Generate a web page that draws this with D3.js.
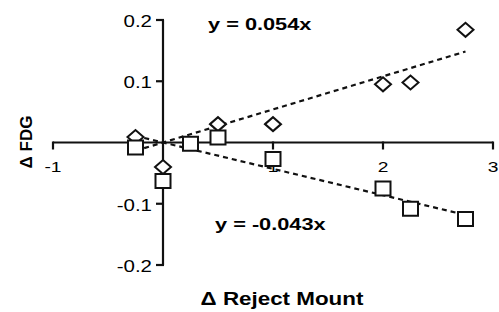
<!DOCTYPE html>
<html>
<head>
<meta charset="utf-8">
<script src="https://cdn.jsdelivr.net/npm/d3@7"></script>
<style>
  html, body { margin: 0; padding: 0; background: #fff; }
  svg { display: block; font-family: "Liberation Sans", Arial, sans-serif; }
</style>
</head>
<body>
<svg id="chart" width="499" height="312"></svg>
<script>
// values
var diamondX = [-0.25, 0, 0.5, 1, 2, 2.25, 2.75];
var diamondY = [0.009, -0.04, 0.03, 0.03, 0.095, 0.098, 0.184];
var squareX = [-0.25, 0, 0.25, 0.5, 1, 2, 2.25, 2.75];
var squareY = [-0.008, -0.063, -0.002, 0.008, -0.027, -0.075, -0.108, -0.125];
var slopeUp = 0.054;
var slopeDown = -0.043;
var fitRange = [-0.25, 2.75];
var xTicks = [-1, 1, 2, 3];
var yTicks = [-0.2, -0.1, 0.1, 0.2];
var upLabel = 'y = 0.054x';
var downLabel = 'y = -0.043x';
var xTitle = '\u0394 Reject Mount';
var yTitle = '\u0394 FDG';

var svg = d3.select('#chart');
var x = d3.scaleLinear().domain([-1, 3]).range([53, 493]);
var y = d3.scaleLinear().domain([-0.2, 0.2]).range([265, 20]);
var stretch = 1.28; // the picture is wider than tall, text too

function label(px, py, txt, anchor, size, weight) {
    svg.append('text')
        .attr('transform', 'translate(' + px + ',' + py + ') scale(' + stretch + ',1)')
        .attr('text-anchor', anchor)
        .style('font-size', size + 'px')
        .style('font-weight', weight)
        .style('fill', '#000')
        .text(txt);
}

// axes, crossing at the origin
var axisG = svg.append('g').attr('stroke', '#111').attr('stroke-width', 2.2).attr('fill', 'none');
axisG.append('line').attr('x1', x(-1)).attr('x2', x(3)).attr('y1', y(0)).attr('y2', y(0));
axisG.append('line').attr('x1', x(0)).attr('x2', x(0)).attr('y1', y(-0.2)).attr('y2', y(0.2));
xTicks.forEach(function (t) {
    axisG.append('line').attr('x1', x(t)).attr('x2', x(t)).attr('y1', y(0) - 1).attr('y2', y(0) + 7);
    label(x(t), 172, String(t), 'middle', 15, 'normal');
});
yTicks.forEach(function (t) {
    axisG.append('line').attr('x1', x(0) + 1).attr('x2', x(0) - 7).attr('y1', y(t)).attr('y2', y(t));
    label(152, y(t) + 7, String(t), 'end', 16, 'normal');
});

// fitted lines through the origin
var line = d3.line().x(function (d) { return x(d); });
[slopeUp, slopeDown].forEach(function (k) {
    svg.append('path')
        .attr('d', line.y(function (d) { return y(k * d); })(fitRange))
        .attr('fill', 'none')
        .attr('stroke', '#111')
        .attr('stroke-width', 2.2)
        .attr('stroke-dasharray', '5,4');
});

// markers
var diamond = 'M-8,0L0,-7L8,0L0,7Z';
var square = 'M-7.5,-7L7.5,-7L7.5,7L-7.5,7Z';
svg.append('g').selectAll('path')
    .data(d3.zip(diamondX, diamondY))
    .enter().append('path')
    .attr('d', diamond)
    .attr('transform', function (d) { return 'translate(' + x(d[0]) + ',' + y(d[1]) + ')'; })
    .attr('fill', '#fff').attr('stroke', '#111').attr('stroke-width', 2);
svg.append('g').selectAll('path')
    .data(d3.zip(squareX, squareY))
    .enter().append('path')
    .attr('d', square)
    .attr('transform', function (d) { return 'translate(' + x(d[0]) + ',' + y(d[1]) + ')'; })
    .attr('fill', '#fff').attr('stroke', '#111').attr('stroke-width', 2);

// equations
label(208, 30, upLabel, 'start', 17, 'bold');
label(215, 230, downLabel, 'start', 17, 'bold');

// titles
label(282, 305, xTitle, 'middle', 17.5, '600');
svg.append('text')
    .attr('transform', 'translate(32,142) rotate(-90)')
    .attr('text-anchor', 'middle')
    .style('font-size', '17px')
    .style('font-weight', '600')
    .style('fill', '#000')
    .text(yTitle);
</script>
</body>
</html>
